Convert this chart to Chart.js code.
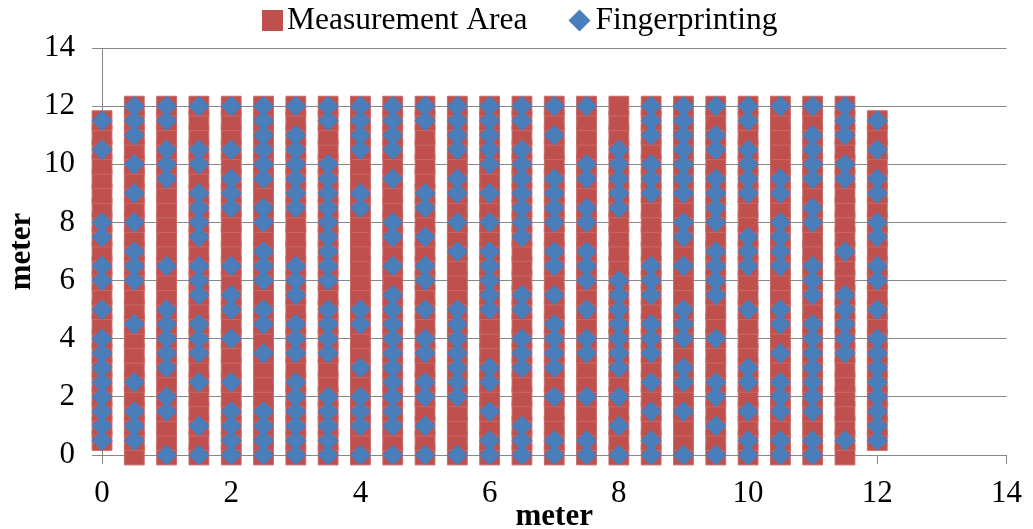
<!DOCTYPE html>
<html>
<head>
<meta charset="utf-8">
<script src="https://cdn.jsdelivr.net/npm/chart.js@4.4.1/dist/chart.umd.min.js"></script>
<style>
  html, body { margin: 0; padding: 0; background: #ffffff; }
  #wrap { width: 1033px; height: 529px; position: relative; }
</style>
</head>
<body>
<div id="wrap"><canvas id="c" width="1033" height="529"></canvas></div>
<script>
// ---------- data ----------
const seriesNames = ['Measurement Area', 'Fingerprinting'];
const axisTitleX = 'meter';
const axisTitleY = 'meter';
const xTickValues = [0, 2, 4, 6, 8, 10, 12, 14];
const yTickValues = [0, 2, 4, 6, 8, 10, 12, 14];

// column positions (meters)
const columnX = [0, 0.5, 1, 1.5, 2, 2.5, 3, 3.5, 4, 4.5, 5, 5.5, 6, 6.5, 7, 7.5, 8, 8.5, 9, 9.5, 10, 10.5, 11, 11.5, 12];
// measurement-area rows for inner columns and for the two edge columns
const fullColumnY = [0, 0.5, 1, 1.5, 2, 2.5, 3, 3.5, 4, 4.5, 5, 5.5, 6, 6.5, 7, 7.5, 8, 8.5, 9, 9.5, 10, 10.5, 11, 11.5, 12];
const edgeColumnY = [0.5, 1, 1.5, 2, 2.5, 3, 3.5, 4, 4.5, 5, 5.5, 6, 6.5, 7, 7.5, 8, 8.5, 9, 9.5, 10, 10.5, 11, 11.5];
const edgeColumnX = [0, 12];

// fingerprint y-values, one list per column (same order as columnX)
const fingerprintY = [
  [11.5, 10.5, 8, 7.5, 6.5, 6, 5, 4, 3.5, 3, 2.5, 2, 1.5, 1, 0.5],
  [12, 11.5, 11, 10, 9, 8, 7, 6.5, 6, 4.5, 2.5, 1.5, 1, 0.5],
  [12, 11.5, 10.5, 10, 9.5, 6.5, 5, 4.5, 4, 3.5, 3, 2, 1.5, 0],
  [12, 10.5, 10, 9, 8.5, 8, 7.5, 6.5, 6, 5.5, 4.5, 4, 3.5, 2.5, 1, 0],
  [12, 10.5, 9.5, 9, 8.5, 6.5, 5.5, 5, 4, 2.5, 1.5, 1, 0.5, 0],
  [12, 11.5, 11, 10.5, 10, 9.5, 8.5, 8, 7, 6.5, 6, 5, 4.5, 3.5, 1.5, 1, 0.5, 0],
  [12, 11, 10.5, 10, 9.5, 9, 8.5, 6.5, 6, 5.5, 4.5, 4, 3.5, 2.5, 2, 1.5, 1, 0.5, 0],
  [12, 11.5, 10, 9.5, 9, 8.5, 8, 7.5, 7, 6.5, 6, 5, 4.5, 4, 3.5, 2, 1.5, 1, 0.5, 0],
  [12, 11.5, 11, 10.5, 9, 8.5, 5, 4.5, 3, 2, 1.5, 1, 0],
  [12, 11.5, 11, 10.5, 9.5, 8, 7.5, 6.5, 5.5, 5, 4.5, 4, 3.5, 3, 2.5, 2, 1.5, 1, 0],
  [12, 11.5, 9, 8.5, 7.5, 6.5, 6, 5, 4, 3.5, 2.5, 2, 1, 0],
  [12, 11.5, 11, 10.5, 9.5, 9, 8, 7, 5, 4.5, 4, 3.5, 3, 2.5, 2, 0],
  [12, 11.5, 11, 10.5, 10, 9, 8, 7, 6.5, 6, 5.5, 5, 3, 2.5, 1.5, 0.5, 0],
  [12, 11.5, 10.5, 10, 9.5, 9, 8.5, 8, 7.5, 5.5, 5, 4, 3.5, 3, 1, 0.5, 0],
  [12, 11, 9.5, 9, 8.5, 8, 7, 6.5, 5.5, 4.5, 4, 3.5, 3, 2, 0.5, 0],
  [12, 10, 9.5, 8.5, 8, 7, 6.5, 6, 5, 4, 3.5, 2, 0.5, 0],
  [10.5, 10, 9.5, 9, 8.5, 6, 5.5, 5, 4.5, 4, 3.5, 3, 2, 1, 0],
  [12, 11.5, 11, 10, 9.5, 9, 6.5, 6, 5.5, 4.5, 4, 3.5, 2.5, 1.5, 0.5, 0],
  [12, 11.5, 11, 10.5, 10, 9.5, 9, 8, 7.5, 6.5, 5, 4.5, 4, 3, 2.5, 1.5, 0],
  [12, 11, 10.5, 9.5, 9, 8.5, 8, 7, 6.5, 6, 5.5, 4, 2.5, 2, 1, 0],
  [12, 11.5, 10.5, 10, 9.5, 9, 7.5, 7, 6.5, 5, 3, 2.5, 1.5, 0.5, 0],
  [12, 9.5, 9, 8, 7.5, 7, 6.5, 5, 4.5, 3.5, 2.5, 2, 1.5, 0.5, 0],
  [12, 11, 10.5, 10, 9.5, 8.5, 8, 6.5, 6, 5.5, 4.5, 4, 3.5, 3, 2.5, 2, 1.5, 0.5, 0],
  [12, 11.5, 11, 10, 9.5, 7, 5.5, 5, 4.5, 4, 3.5, 0.5],
  [11.5, 10.5, 9.5, 9, 8, 7.5, 6.5, 6, 5, 4, 3.5, 3, 2.5, 2, 1.5, 1, 0.5]
];

// ---------- build point tables from the arrays ----------
const measurementPoints = [];
columnX.forEach(x => {
  const ys = edgeColumnX.includes(x) ? edgeColumnY : fullColumnY;
  ys.forEach(y => measurementPoints.push({ x: x, y: y }));
});
const fingerprintPoints = [];
columnX.forEach((x, i) => {
  fingerprintY[i].forEach(y => fingerprintPoints.push({ x: x, y: y }));
});

// ---------- styling ----------
const FONT = "'Liberation Serif', 'Times New Roman', serif";
const RED = '#C0504D';
const RED_EDGE = '#C96A67';
const BLUE = '#4A7EBB';
const GRID = '#878787';

// custom legend (tight spacing like the original)
const legendPlugin = {
  id: 'tightLegend',
  afterDraw(chart) {
    const ctx = chart.ctx;
    const cy = 20.5;
    let x = 262;
    ctx.save();
    ctx.font = '31.5px ' + FONT;
    ctx.textBaseline = 'middle';
    ctx.fillStyle = '#000';
    chart.data.datasets.forEach((ds, i) => {
      if (ds.pointStyle === 'rect') {
        ctx.fillStyle = ds.backgroundColor;
        ctx.fillRect(x, cy - 10.5, 21, 21);
        x += 21 + 4;
      } else {
        ctx.fillStyle = ds.backgroundColor;
        ctx.beginPath();
        ctx.moveTo(x + 11, cy - 11);
        ctx.lineTo(x + 22, cy);
        ctx.lineTo(x + 11, cy + 11);
        ctx.lineTo(x, cy);
        ctx.closePath();
        ctx.fill();
        x += 22 + 5;
      }
      ctx.fillStyle = '#000';
      ctx.fillText(ds.label, x, cy);
      x += ctx.measureText(ds.label).width + 41;
    });
    ctx.restore();
  }
};

new Chart(document.getElementById('c'), {
  type: 'scatter',
  data: {
    datasets: [
      {
        label: seriesNames[0],
        data: measurementPoints,
        pointStyle: 'rect',
        pointRadius: 14,
        backgroundColor: RED,
        borderColor: RED_EDGE,
        borderWidth: 1,
        order: 1,
        clip: false
      },
      {
        label: seriesNames[1],
        data: fingerprintPoints,
        pointStyle: 'rectRot',
        pointRadius: 10,
        backgroundColor: BLUE,
        borderColor: BLUE,
        borderWidth: 1,
        order: 0,
        clip: false
      }
    ]
  },
  options: {
    responsive: false,
    animation: false,
    events: [],
    devicePixelRatio: 1,
    layout: { padding: { top: 48, right: 23, left: 0, bottom: 0 } },
    plugins: {
      legend: { display: false },
      tooltip: { enabled: false }
    },
    scales: {
      x: {
        type: 'linear',
        position: 'bottom',
        min: 0,
        max: 14,
        afterBuildTicks: s => { s.ticks = xTickValues.map(v => ({ value: v })); },
        afterFit: s => { s.height = 74; },
        grid: { drawOnChartArea: false, drawTicks: true, tickLength: 9, color: GRID, lineWidth: 1 },
        border: { display: true, color: GRID, width: 1 },
        ticks: { color: '#000', font: { family: FONT, size: 31 }, padding: 11, maxRotation: 0, autoSkip: false },
        title: { display: true, text: axisTitleX, color: '#000', padding: { top: 0, bottom: -2 },
                 font: { family: FONT, size: 31, weight: 'bold', lineHeight: 0.9 } }
      },
      y: {
        type: 'linear',
        position: 'left',
        min: 0,
        max: 14,
        afterBuildTicks: s => { s.ticks = yTickValues.map(v => ({ value: v })); },
        afterFit: s => { s.width = 102; },
        grid: { drawOnChartArea: true, drawTicks: true, tickLength: 10, color: GRID, lineWidth: 1 },
        border: { display: true, color: GRID, width: 1 },
        ticks: { color: '#000', font: { family: FONT, size: 31 }, padding: 17, autoSkip: false },
        title: { display: true, text: axisTitleY, color: '#000', padding: { top: 8, bottom: 0 },
                 font: { family: FONT, size: 31, weight: 'bold', lineHeight: 0.9 } }
      }
    }
  },
  plugins: [legendPlugin]
});
</script>
</body>
</html>
